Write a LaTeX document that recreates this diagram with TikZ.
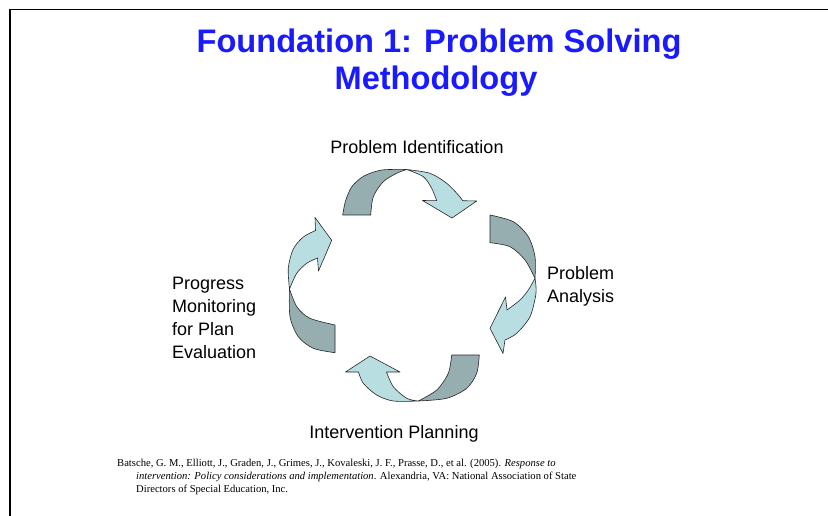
\documentclass[tikz,border=0pt]{standalone}
\usepackage{fontspec}
\setmainfont{Liberation Sans}
\newfontfamily\citefont{Liberation Serif}
\definecolor{titleblue}{RGB}{26,26,255}
\definecolor{ribbondark}{RGB}{150,174,176}
\definecolor{ribbonlight}{RGB}{185,222,226}
\tikzset{
  backpart/.style={fill=ribbondark, draw=black!85, line width=0.6pt, line join=round},
  frontpart/.style={fill=ribbonlight, draw=black!85, line width=0.6pt, line join=round},
  titletext/.style={text=titleblue, font=\fontsize{32.6}{37}\selectfont\bfseries, inner sep=0pt},
  labeltext/.style={font=\fontsize{18}{22.7}\selectfont, inner sep=0pt, align=left},
  citetext/.style={font=\citefont\fontsize{10.6}{13}\selectfont, inner sep=0pt, align=left},
  frameline/.style={line width=1.6pt, black}
}
\begin{document}
\begin{tikzpicture}[x=1pt,y=-1pt]
\useasboundingbox (0,0) rectangle (828,516);
\fill[white] (0,0) rectangle (828,516);
% frame
\coordinate (fb) at (10,516);
\coordinate (fc) at (10,9.5);
\coordinate (fr) at (828,9.5);
\draw[frameline] (fb) -- (fc);
\draw[frameline] (fc) -- (fr);
% title
\node[titletext, anchor=base] (t1) at (439,53) {Foundation 1: Problem Solving};
\node[titletext, anchor=base] (t2) at (436,90) {Methodology};
% labels
\node[labeltext, anchor=base] (lid) at (417,154) {Problem Identification};
\node[labeltext, anchor=base west] (lan) at (547,302) {Problem\\Analysis};
\node[labeltext, anchor=base west] (lpm) at (172,358) {Progress\\Monitoring\\for Plan\\Evaluation};
\node[labeltext, anchor=base] (lip) at (394,438) {Intervention Planning};
% top arrow
\draw[backpart] plot[smooth] coordinates {(342.7,215) (345.5,201) (352,186.5) (364,176) (382,170) (406.7,169.5)}
  -- plot[smooth] coordinates {(406.7,169.5) (396.7,173.3) (383.3,181.7) (373.3,196.7) (370.7,215)} -- cycle;
\draw[frontpart] plot[smooth] coordinates {(406.7,169.5) (430,173.3) (446.7,183.3) (458.3,195) (462.7,200.7)}
  -- (476.7,201) -- (452,218) -- (422.5,200.5) -- (436.7,200.7)
  -- plot[smooth] coordinates {(436.7,200.7) (431.7,188.3) (423.3,176.7) (406.7,169.5)} -- cycle;
% right arrow
\draw[backpart] plot[smooth] coordinates {(490,215) (513.3,221.7) (528.3,236.7) (535,256.7) (535,278.3)}
  -- plot[smooth] coordinates {(535,278.3) (525,260) (510,246.7) (490,242.7)} -- cycle;
\draw[frontpart] plot[smooth] coordinates {(535,278.3) (536,293.3) (530,316.7) (516.7,333.3) (505,340)}
  -- (503,353.5) -- (490,328.3) -- (505.5,297) -- (507,310)
  -- plot[smooth] coordinates {(507,310) (520,300) (528.3,290) (535,278.3)} -- cycle;
% bottom arrow
\draw[backpart] plot[smooth] coordinates {(479.3,355) (476.7,373.3) (466.7,388.3) (446.7,398.3) (418.3,401)}
  -- plot[smooth] coordinates {(418.3,401) (436.7,390) (448.3,373.3) (451.7,355)} -- cycle;
\draw[frontpart] plot[smooth] coordinates {(418.3,401) (393.3,401) (376.7,395) (363.3,383.3) (358.5,372)}
  -- (345.5,372) -- (370,356) -- (400,372) -- (386.5,372)
  -- plot[smooth] coordinates {(386.5,372) (393.3,386.7) (406.7,398.3) (418.3,401)} -- cycle;
% left arrow
\draw[backpart] plot[smooth] coordinates {(335,352.7) (313.3,348.3) (298.3,336.7) (290,316.7) (289.5,289)}
  -- plot[smooth] coordinates {(289.5,289) (297,307) (310,318.3) (335,325)} -- cycle;
\draw[frontpart] plot[smooth] coordinates {(289.5,289) (288.3,268) (293.3,249) (303.3,237) (315.5,230.5)}
  -- (315,217.5) -- (331.7,240.3) -- (318.5,271) -- (317.5,258)
  -- plot[smooth] coordinates {(317.5,258) (306.7,263.3) (296.7,273.3) (289.5,289)} -- cycle;
% citation
\node[citetext, anchor=base west] (c1) at (117,466) {Batsche, G. M., Elliott, J., Graden, J., Grimes, J., Kovaleski, J. F., Prasse, D., et al. (2005). \textit{Response to}};
\node[citetext, anchor=base west] (c2) at (136,492) {\textit{intervention: Policy considerations and implementation}. Alexandria, VA: National Association of State\\Directors of Special Education, Inc.};
\end{tikzpicture}
\end{document}
